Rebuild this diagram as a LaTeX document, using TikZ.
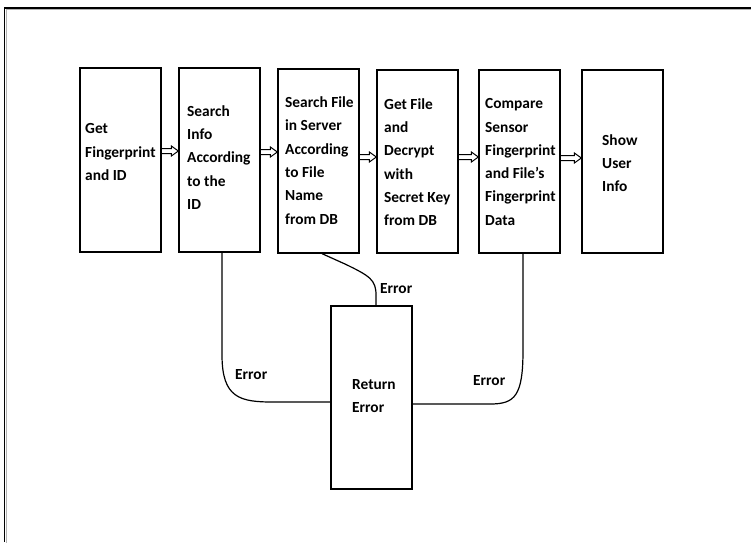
\documentclass[tikz,border=0pt]{standalone}
\usepackage{fontspec}
\setmainfont{Carlito}
\usetikzlibrary{calc}
\newcommand\blockarrow[2]{%
  \draw[blk] ($(#1)+(0,-2.5)$) -- ($(#2)+(-7,-2.5)$) -- ($(#2)+(-7,-5)$) -- (#2)
    -- ($(#2)+(-7,5)$) -- ($(#2)+(-7,2.5)$) -- ($(#1)+(0,2.5)$);}
\begin{document}
\begin{tikzpicture}[x=1pt,y=-1pt,
  box/.style={draw,line width=1.3pt,minimum width=81pt,minimum height=184pt,inner sep=0pt},
  lbl/.style={anchor=west,align=left,inner sep=0pt,font=\fontsize{15.4}{23.3}\selectfont\bfseries},
  blk/.style={line width=1pt,line join=miter},
  conn/.style={line width=1.2pt}]
\useasboundingbox (0,0) rectangle (751,542);
\fill[white] (0,0) rectangle (751,542);
% frame
\coordinate (fbl) at (4.5,542);
\coordinate (ftl) at (4.5,8);
\coordinate (ftr) at (751,8);
\draw[gray!60,line width=1pt] ([xshift=1.5pt,yshift=-1.5pt]fbl) -- ([xshift=1.5pt,yshift=-1.5pt]ftl) -- ([yshift=-1.5pt]ftr);
\draw[line width=1.6pt] (fbl) -- (ftl) -- (ftr);
% boxes
\node[box] (b1) at (120.5,160) {};
\node[box] (b2) at (219.5,160) {};
\node[box] (b3) at (318.5,161) {};
\node[box,minimum height=183pt] (b4) at (417.5,161.5) {};
\node[box,minimum height=183pt] (b5) at (519.5,161.5) {};
\node[box,minimum height=183pt] (b6) at (622.5,161.5) {};
\node[box,minimum height=183pt] (ret) at (371.5,397.5) {};
% labels
\node[lbl] (t1) at (85,152) {Get\\Fingerprint\\and ID};
\node[lbl] (t2) at (187,157.5) {Search\\Info\\According\\to the\\ID};
\node[lbl] (t3) at (285,160.5) {Search File\\in Server\\According\\to File\\Name\\from DB};
\node[lbl] (t4) at (384,162) {Get File\\and\\Decrypt\\with\\Secret Key\\from DB};
\node[lbl] (t5) at (485,162) {Compare\\Sensor\\Fingerprint\\and File's\\Fingerprint\\Data};
\node[lbl] (t6) at (602,163) {Show\\User\\Info};
\node[lbl] (tr) at (352,396) {Return\\Error};
% arrows
\coordinate (a1s) at (b1.east |- 0,151); \coordinate (a1e) at (b2.west |- 0,151);
\coordinate (a2s) at (b2.east |- 0,152); \coordinate (a2e) at (b3.west |- 0,152);
\coordinate (a3s) at (b3.east |- 0,157); \coordinate (a3e) at (b4.west |- 0,157);
\coordinate (a4s) at (b4.east |- 0,157); \coordinate (a4e) at (b5.west |- 0,157);
\coordinate (a5s) at (b5.east |- 0,158); \coordinate (a5e) at (b6.west |- 0,158);
\blockarrow{a1s}{a1e}
\blockarrow{a2s}{a2e}
\blockarrow{a3s}{a3e}
\blockarrow{a4s}{a4e}
\blockarrow{a5s}{a5e}
% error connectors
\draw[conn] (b2.south -| 222,0) -- (222,355) .. controls (222,398) and (240,402) .. (273,402) -- (ret.west |- 0,402);
\draw[conn] (b3.south -| 322,0) -- (345,264) .. controls (370,276) and (376,280) .. (376,295) -- (ret.north -| 376,0);
\draw[conn] (b5.south -| 523,0) -- (523,350) .. controls (523,396) and (515,404) .. (490,404) -- (ret.east |- 0,404);
\node[lbl] (e1) at (235,375) {Error};
\node[lbl] (e2) at (380,289) {Error};
\node[lbl] (e3) at (473,381) {Error};
\end{tikzpicture}
\end{document}
